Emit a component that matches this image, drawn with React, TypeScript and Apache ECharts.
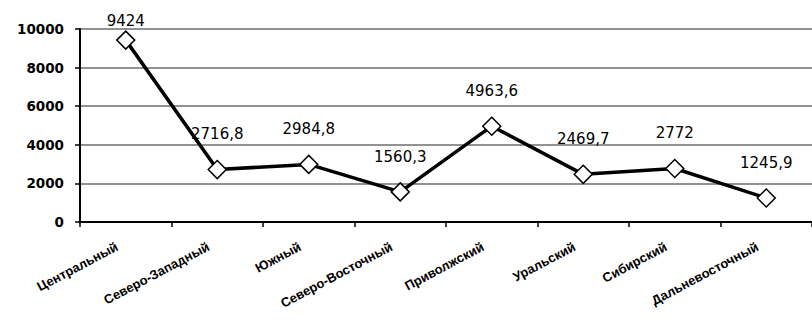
import React, { useEffect, useRef } from "react";
import * as echarts from "echarts";

const categories = [
  "Центральный",
  "Северо-Западный",
  "Южный",
  "Северо-Восточный",
  "Приволжский",
  "Уральский",
  "Сибирский",
  "Дальневосточный",
];
const values = [9424, 2716.8, 2984.8, 1560.3, 4963.6, 2469.7, 2772, 1245.9];
const yMin = 0;
const yMax = 10000;
const yInterval = 2000;

export default function App() {
  const ref = useRef<HTMLDivElement>(null);
  useEffect(() => {
    if (!ref.current) return;
    const chart = echarts.init(ref.current, null, { renderer: "svg" });
    chart.setOption({
      animation: false,
      backgroundColor: "#ffffff",
      grid: { left: 80, right: -6, top: 29, bottom: 110, containLabel: false },
      xAxis: {
        type: "category",
        data: categories,
        boundaryGap: true,
        axisLine: { show: true, lineStyle: { color: "#000", width: 2 } },
        axisTick: { show: true, length: 5, lineStyle: { color: "#000", width: 1.5 } },
        axisLabel: {
          rotate: 28,
          margin: 19,
          padding: [0, 10, 0, 0],
          color: "#000",
          fontFamily: "Liberation Sans",
          fontWeight: "bold",
          fontSize: 13,
          interval: 0,
        },
        splitLine: { show: false },
      },
      yAxis: {
        type: "value",
        min: yMin,
        max: yMax,
        interval: yInterval,
        axisLine: { show: true, lineStyle: { color: "#000", width: 2 } },
        axisTick: { show: true, length: 5, lineStyle: { color: "#000", width: 1.5 } },
        axisLabel: {
          margin: 16,
          color: "#000",
          fontFamily: "DejaVu Sans",
          fontWeight: "bold",
          fontSize: 13.5,
          formatter: (v: number) => String(v),
        },
        splitLine: { show: true, lineStyle: { color: "#6e6e6e", width: 1.5 } },
      },
      series: [
        {
          type: "line",
          data: values.map((v) => ({
            value: v,
            label: v > 9000 ? { distance: 2 } : undefined,
          })),
          symbol: "diamond",
          symbolSize: 18,
          lineStyle: { color: "#000", width: 3.5 },
          itemStyle: { color: "#fff", borderColor: "#000", borderWidth: 1.5 },
          label: {
            show: true,
            position: "top",
            distance: 18,
            color: "#000",
            fontFamily: "DejaVu Sans",
            fontSize: 15,
            formatter: (p: any) => String(p.value).replace(".", ","),
          },
          z: 3,
        },
      ],
    });
    return () => chart.dispose();
  }, []);
  return (
    <div
      ref={ref}
      style={{ position: "fixed", left: 0, top: 0, width: 812, height: 332 }}
    />
  );
}
